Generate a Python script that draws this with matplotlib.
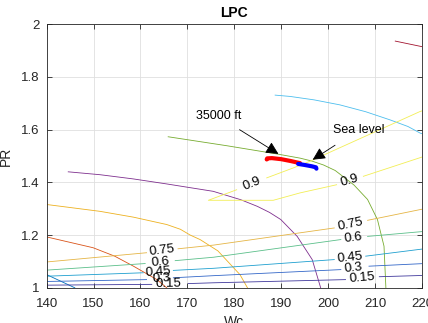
import numpy as np
import matplotlib
matplotlib.use('Agg')
import matplotlib.pyplot as plt

plt.rcParams['font.family'] = ['Liberation Sans', 'DejaVu Sans']

nan = np.nan

# speed lines (MATLAB default colour order)
speed_x = [
    [140, 146],
    [140, 149.9, 154.5, 158.5, 163.5, 165.6],
    [140, 151.4, 158.5, 165.6, 168.5, 170.6, 172.7, 176.5, 181.2, 182.8],
    [144.6, 151.4, 158.5, 165.6, 175.5, 181.4, 184.9, 187.5, 189.9, 193.4, 196.6, 198.4],
    [165.9, 178.4, 189.0, 194.0, 196.5, 199.0, 201.5, 205.5, 208.4, 210.5, 211.9, 212.3],
    [188.7, 191.9, 197.0, 202.5, 208.0, 213.2, 217.0, 219.6, 220.5],
    [214.3, 220.5],
]
speed_y = [
    [1.05, 1.0],
    [1.193, 1.152, 1.12, 1.082, 1.031, 1.0],
    [1.316, 1.29, 1.268, 1.24, 1.222, 1.2, 1.183, 1.14, 1.05, 1.0],
    [1.44, 1.429, 1.413, 1.394, 1.366, 1.334, 1.309, 1.286, 1.259, 1.195, 1.107, 1.0],
    [1.573, 1.539, 1.508, 1.492, 1.481, 1.466, 1.445, 1.39, 1.335, 1.259, 1.158, 1.0],
    [1.731, 1.726, 1.713, 1.694, 1.668, 1.637, 1.612, 1.587, 1.582],
    [1.936, 1.913],
]
speed_colors = ['#0072bd', '#d95319', '#edb120', '#7e2f8e', '#77ac30', '#4dbeee', '#a2142f']

# efficiency contours (nan = gap for label)
eff_levels = ['0.15', '0.3', '0.45', '0.6', '0.75', '0.9']
eff_x = [
    [140, 162.4, nan, 170.2, 175.6, 203.7, nan, 210.9, 220.5],
    [140, 161.3, nan, 167, 175.6, 202.7, nan, 208.7, 220.5],
    [140, 160.6, nan, 167, 175.6, 201.3, nan, 208, 220.5],
    [140, 161, nan, 167.4, 175.6, 202.7, nan, 208.4, 220.5],
    [140, 161.3, nan, 168, 175.6, 201.3, nan, 208.4, 220.5],
    [220.5, 219.6, 196.1, 192.6, 186.9, nan, 180.5, 174.46, 188.3, 194.0, 201.8, nan, 207.5, 220.5],
]
eff_y = [
    [1.01, 1.013, nan, 1.016, 1.019, 1.031, nan, 1.042, 1.047],
    [1.024, 1.031, nan, 1.038, 1.046, 1.069, nan, 1.082, 1.092],
    [1.044, 1.057, nan, 1.066, 1.074, 1.107, nan, 1.12, 1.148],
    [1.067, 1.092, nan, 1.103, 1.116, 1.183, nan, 1.195, 1.214],
    [1.098, 1.133, nan, 1.148, 1.162, 1.227, nan, 1.256, 1.30],
    [1.674, 1.669, 1.48, 1.455, 1.417, nan, 1.372, 1.332, 1.332, 1.36, 1.391, nan, 1.423, 1.499],
]
eff_colors = ['#40389c', '#3367c8', '#1e9fcf', '#5bbf8a', '#e5b545', '#f2ee55']

# contour label positions and angles
lab_x = [[166.0, 207.2], [164.4, 205.3], [163.7, 204.6], [164.3, 205.4], [164.6, 204.8], [183.8, 204.6]]
lab_y = [[1.015, 1.036], [1.035, 1.075], [1.06, 1.113], [1.096, 1.188], [1.14, 1.241], [1.394, 1.406]]
lab_rot = [[1, 5], [3, 6], [4, 6], [5, 7], [7, 12], [22, 16]]

# operating lines
op35_x = [186.9, 187.0, 188, 190, 192, 194]
op35_y = [1.487, 1.491, 1.492, 1.488, 1.481, 1.473]
opsl_x = [193.6, 195, 196.5, 197.4, 197.5]
opsl_y = [1.470, 1.466, 1.461, 1.457, 1.452]

fig = plt.figure(figsize=(4.28, 3.23), dpi=100)
ax = fig.add_axes([0.109, 0.109, 0.877, 0.816])

for xs, ys, c in zip(speed_x, speed_y, speed_colors):
    ax.plot(xs, ys, color=c, lw=0.6)

for xs, ys, c in zip(eff_x, eff_y, eff_colors):
    ax.plot(xs, ys, color=c, lw=0.6)

for lvl, lx, ly, lr in zip(eff_levels, lab_x, lab_y, lab_rot):
    for x, y, r in zip(lx, ly, lr):
        ax.text(x, y, lvl, fontsize=9.5, rotation=r, ha='center', va='center',
                rotation_mode='anchor', color='black')

ax.plot(op35_x, op35_y, color='red', lw=3, solid_capstyle='round')
ax.plot(opsl_x, opsl_y, color='blue', lw=3, solid_capstyle='round')

ax.annotate('35000 ft', xy=(189.4, 1.508), xytext=(176.6, 1.65), fontsize=9,
            ha='center', va='center',
            arrowprops=dict(arrowstyle='-|>', color='black', lw=0.6, mutation_scale=19,
                            shrinkA=6, shrinkB=0))
ax.annotate('Sea level', xy=(196.7, 1.486), xytext=(206.6, 1.60), fontsize=9,
            ha='center', va='center',
            arrowprops=dict(arrowstyle='-|>', color='black', lw=0.6, mutation_scale=19,
                            shrinkA=9, shrinkB=0))

ax.set_xlim(140, 220)
ax.set_ylim(1, 2)
ax.set_xticks(np.arange(140, 221, 10))
ax.set_yticks([1, 1.2, 1.4, 1.6, 1.8, 2])
ax.set_yticklabels(['1', '1.2', '1.4', '1.6', '1.8', '2'])
ax.grid(True, color='#dfdfdf', lw=0.6)
ax.set_axisbelow(True)
ax.tick_params(direction='in', top=True, right=True, length=3.5, width=0.6,
               labelsize=9.5, colors='#262626', pad=5)
ax.tick_params(axis='x', pad=7)
for s in ax.spines.values():
    s.set_color('#262626')
    s.set_linewidth(0.6)

ax.set_title('LPC', fontsize=10, fontweight='bold', pad=5)
ax.set_xlabel('Wc', fontsize=10, color='#262626', labelpad=4)
ax.set_ylabel('PR', fontsize=10, color='#262626', labelpad=6)

fig.savefig('out.png', dpi=100)
